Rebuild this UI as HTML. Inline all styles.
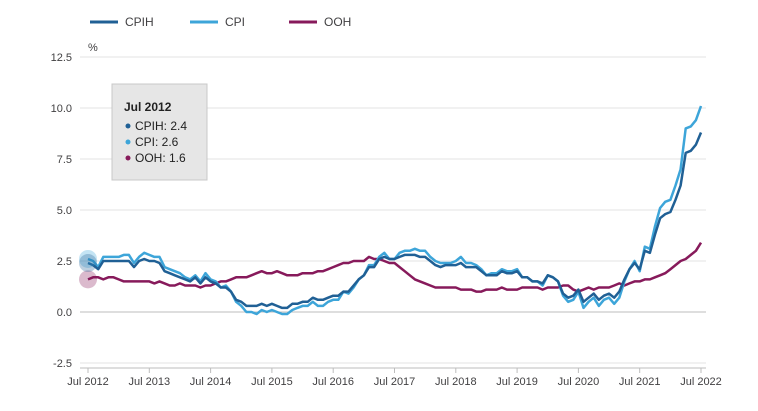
<!DOCTYPE html>
<html><head><meta charset="utf-8">
<style>
body{margin:0;background:#fff;font-family:"Liberation Sans",sans-serif;}
svg{display:block}
</style></head>
<body>
<svg id="chart" width="758" height="411" viewBox="0 0 758 411" xmlns="http://www.w3.org/2000/svg">
<g id="legend">
 <g><line x1="90" y1="22" x2="118" y2="22" stroke="#206095" stroke-width="3"/><text x="125" y="26" font-size="12" fill="#414042">CPIH</text></g>
 <g><line x1="190" y1="22" x2="218" y2="22" stroke="#3da5d9" stroke-width="3"/><text x="225" y="26" font-size="12" fill="#414042">CPI</text></g>
 <g><line x1="289" y1="22" x2="317" y2="22" stroke="#871a5b" stroke-width="3"/><text x="324" y="26" font-size="12" fill="#414042">OOH</text></g>
</g>
<text x="88" y="51" font-size="11" fill="#414042">%</text>
<g id="grid"></g>
<g id="xaxis"></g>
<g id="series"></g>
<g id="tooltip">
 <rect x="112" y="84" width="95" height="96" fill="#e6e6e6" stroke="#c8c8c8"/>
 <text x="124" y="111" font-size="12" font-weight="bold" fill="#222">Jul 2012</text>
 <circle cx="128" cy="126" r="2.5" fill="#206095"/><text x="135" y="130" font-size="12" fill="#222">CPIH: 2.4</text>
 <circle cx="128" cy="142" r="2.5" fill="#3da5d9"/><text x="135" y="146" font-size="12" fill="#222">CPI: 2.6</text>
 <circle cx="128" cy="158" r="2.5" fill="#871a5b"/><text x="135" y="162" font-size="12" fill="#222">OOH: 1.6</text>
</g>
</svg>
<script>
const yTicks=[-2.5,0,2.5,5,7.5,10,12.5];
const yTickLabels=["-2.5","0.0","2.5","5.0","7.5","10.0","12.5"];
const xTickLabels=["Jul 2012","Jul 2013","Jul 2014","Jul 2015","Jul 2016","Jul 2017","Jul 2018","Jul 2019","Jul 2020","Jul 2021","Jul 2022"];
const cpih=[2.4,2.3,2.1,2.5,2.5,2.5, 2.5,2.5,2.5,2.2,2.5,2.6,2.5,2.5,2.4,2.0,1.9,1.8, 1.7,1.6,1.5,1.7,1.4,1.7,1.5,1.4,1.2,1.2,1.0,0.6, 0.5,0.3,0.3,0.3,0.4,0.3,0.4,0.3,0.2,0.2,0.4,0.4, 0.5,0.5,0.7,0.6,0.6,0.7,0.8,0.8,1.0,1.0,1.3,1.6, 1.8,2.2,2.2,2.6,2.7,2.6,2.6,2.7,2.8,2.8,2.8,2.7, 2.7,2.5,2.3,2.2,2.3,2.3,2.3,2.4,2.2,2.2,2.2,2.0, 1.8,1.8,1.8,2.0,1.9,1.9,2.0,1.7,1.7,1.5,1.5,1.4, 1.8,1.7,1.5,0.9,0.7,0.8,1.1,0.5,0.7,0.9,0.6,0.8, 0.9,0.7,1.0,1.6,2.1,2.4,2.1,3.0,2.9,3.8,4.6,4.8, 4.9,5.5,6.2,7.8,7.9,8.2,8.8];
const cpi=[2.6,2.5,2.2,2.7,2.7,2.7, 2.7,2.8,2.8,2.4,2.7,2.9,2.8,2.7,2.7,2.2,2.1,2.0, 1.9,1.7,1.6,1.8,1.5,1.9,1.6,1.5,1.2,1.3,1.0,0.5, 0.3,0.0,0.0,-0.1,0.1,0.0,0.1,0.0,-0.1,-0.1,0.1,0.2, 0.3,0.3,0.5,0.3,0.3,0.5,0.6,0.6,1.0,0.9,1.2,1.6, 1.8,2.3,2.3,2.7,2.9,2.6,2.6,2.9,3.0,3.0,3.1,3.0, 3.0,2.7,2.5,2.4,2.4,2.4,2.5,2.7,2.4,2.4,2.3,2.1, 1.8,1.9,1.9,2.1,2.0,2.0,2.1,1.7,1.7,1.5,1.5,1.3, 1.8,1.7,1.5,0.8,0.5,0.6,1.0,0.2,0.5,0.7,0.3,0.6, 0.7,0.4,0.7,1.5,2.1,2.5,2.0,3.2,3.1,4.2,5.1,5.4, 5.5,6.2,7.0,9.0,9.1,9.4,10.1];
const ooh=[1.6,1.7,1.7,1.6,1.7,1.7, 1.6,1.5,1.5,1.5,1.5,1.5,1.5,1.4,1.5,1.4,1.3,1.3, 1.4,1.3,1.3,1.3,1.2,1.3,1.3,1.4,1.5,1.5,1.6,1.7, 1.7,1.7,1.8,1.9,2.0,1.9,1.9,2.0,1.9,1.8,1.8,1.8, 1.9,1.9,1.9,2.0,2.0,2.1,2.2,2.3,2.4,2.4,2.5,2.5, 2.5,2.7,2.6,2.6,2.5,2.4,2.4,2.2,2.0,1.8,1.6,1.5, 1.4,1.3,1.2,1.2,1.2,1.2,1.2,1.1,1.1,1.1,1.0,1.0, 1.1,1.1,1.1,1.2,1.1,1.1,1.1,1.2,1.2,1.2,1.2,1.1, 1.2,1.2,1.2,1.3,1.3,1.1,1.0,1.1,1.2,1.1,1.2,1.2, 1.2,1.3,1.4,1.3,1.4,1.5,1.5,1.6,1.6,1.7,1.8,1.9, 2.1,2.3,2.5,2.6,2.8,3.0,3.4];
const NS="http://www.w3.org/2000/svg";
const x0=88,x1=701,yZero=312,pxPerUnit=20.4;
const nPts=cpi.length;
function xScale(i){return x0+(x1-x0)*i/(nPts-1);}
function yScale(v){return yZero-v*pxPerUnit;}
const grid=document.getElementById('grid');
yTicks.forEach((t,k)=>{
 const l=document.createElementNS(NS,'line');
 
 
 l.setAttribute('x1',80);l.setAttribute('x2',706);
 l.setAttribute('y1',yScale(t));l.setAttribute('y2',yScale(t));
 l.setAttribute('stroke',t===0?'#bdbdbd':'#e3e3e3');
 grid.appendChild(l);
 const tx=document.createElementNS(NS,'text');
 
 
 tx.setAttribute('x',72);tx.setAttribute('y',yScale(t)+4);
 tx.setAttribute('text-anchor','end');tx.setAttribute('font-size','11');tx.setAttribute('fill','#414042');
 tx.textContent=yTickLabels[k];grid.appendChild(tx);
});
const xa=document.getElementById('xaxis');
const base=document.createElementNS(NS,'line');


base.setAttribute('x1',80);base.setAttribute('x2',706);base.setAttribute('y1',368);base.setAttribute('y2',368);base.setAttribute('stroke','#bdbdbd');
xa.appendChild(base);
xTickLabels.forEach((lab,k)=>{
 const x=xScale(k*12);
 const tk=document.createElementNS(NS,'line');
 
 
 tk.setAttribute('x1',x);tk.setAttribute('x2',x);tk.setAttribute('y1',368);tk.setAttribute('y2',373);tk.setAttribute('stroke','#bdbdbd');
 xa.appendChild(tk);
 const tx=document.createElementNS(NS,'text');
 
 
 tx.setAttribute('x',x);tx.setAttribute('y',385);tx.setAttribute('text-anchor','middle');tx.setAttribute('font-size','11');tx.setAttribute('fill','#414042');
 tx.textContent=lab;xa.appendChild(tx);
});
const ser=document.getElementById('series');
function drawLine(arr,color,name){
 const p=document.createElementNS(NS,'path');
 
 
 p.setAttribute('d',arr.map((v,i)=>(i?'L':'M')+xScale(i).toFixed(1)+','+yScale(v).toFixed(1)).join(''));
 p.setAttribute('fill','none');p.setAttribute('stroke',color);p.setAttribute('stroke-width','2.5');p.setAttribute('stroke-linejoin','round');
 ser.appendChild(p);
}
drawLine(ooh,'#871a5b','ooh-line');
drawLine(cpi,'#3da5d9','cpi-line');
drawLine(cpih,'#206095','cpih-line');
[[ooh,'#871a5b'],[cpi,'#3da5d9'],[cpih,'#206095']].forEach(([a,c])=>{
 const h=document.createElementNS(NS,'circle');
 
 
 h.setAttribute('cx',xScale(0));h.setAttribute('cy',yScale(a[0]));h.setAttribute('r',9);h.setAttribute('fill',c);h.setAttribute('fill-opacity','0.3');
 ser.appendChild(h);
});
</script>
</body></html>
